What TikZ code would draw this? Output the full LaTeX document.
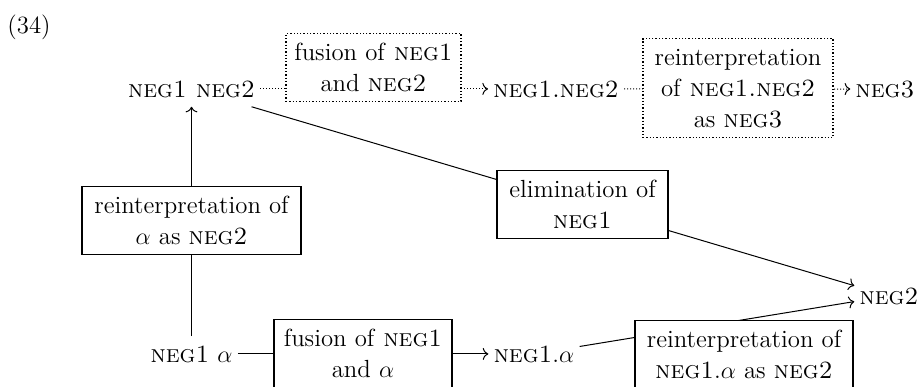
\documentclass[tikz,border=0pt]{standalone}
\usetikzlibrary{backgrounds,arrows.meta}
% strut that fixes the height and depth of every line inside a box
\newcommand\lnst{\rule[-1.5pt]{0pt}{11.5pt}}
\begin{document}
\begin{tikzpicture}[x=0.5pt,y=-0.5pt,
  font=\fontsize{12.4}{15.5}\selectfont,
  lbl/.style={inner xsep=2.5pt,inner ysep=4.5pt},
  stepbox/.style={draw,line width=0.65pt,fill=white,align=center,
    inner xsep=4pt,inner ysep=3.5pt,anchor=north},
  dotbox/.style={stepbox,densely dotted},
  link/.style={line width=0.5pt,-{To[length=2.8pt,width=6pt]}},
  dotlink/.style={link,densely dotted}]
\useasboundingbox (0,0) rectangle (920,386);
\clip (0,0) rectangle (920,386);

% example number
\node[anchor=base west,inner sep=0pt] (exno) at (7,33) {(34)};

% stages
\node[lbl,anchor=base] (n12)  at (191.5,97) {\textsc{neg1 neg2}};
\node[lbl,anchor=base] (n1d2) at (556,97)   {\textsc{neg1.neg2}};
\node[lbl,anchor=base] (n3)   at (885,97)   {\textsc{neg3}};
\node[lbl,anchor=base] (n1a)  at (191.5,362) {\textsc{neg1} $\alpha$};
\node[lbl,anchor=base] (n1da) at (534,362)  {\textsc{neg1}.$\alpha$};
\node[lbl,anchor=base] (n2)   at (889,304)  {\textsc{neg2}};

% processes
\node[dotbox,minimum width=87.5pt] (fuse12) at (373.5,33)
  {\lnst fusion of \textsc{neg1}\\\lnst and \textsc{neg2}};
\node[dotbox,minimum width=95pt] (reint3) at (738,38)
  {\lnst reinterpretation\\\lnst of \textsc{neg1.neg2}\\\lnst as \textsc{neg3}};
\node[stepbox,minimum width=109.5pt] (reinta) at (191.5,186)
  {\lnst reinterpretation of\\\lnst $\alpha$ as \textsc{neg2}};
\node[stepbox,minimum width=85.5pt] (elim) at (582.5,170)
  {\lnst elimination of\\\lnst \textsc{neg1}};
\node[stepbox,minimum width=89pt] (fusea) at (363,319)
  {\lnst fusion of \textsc{neg1}\\\lnst and $\alpha$};
\node[stepbox,minimum width=109pt] (reint2) at (744,320)
  {\lnst reinterpretation of\\\lnst \textsc{neg1}.$\alpha$ as \textsc{neg2}};

% paths between stages, passing behind the process boxes
\begin{scope}[on background layer]
  \draw[dotlink] (n12) -- (n1d2);
  \draw[dotlink] (n1d2) -- (n3);
  \draw[link] (n1a) -- (n12);
  \draw[link] (n12) -- (n2);
  \draw[link] (n1a) -- (n1da);
  \draw[link] (n1da) -- (n2);
\end{scope}
\end{tikzpicture}
\end{document}
